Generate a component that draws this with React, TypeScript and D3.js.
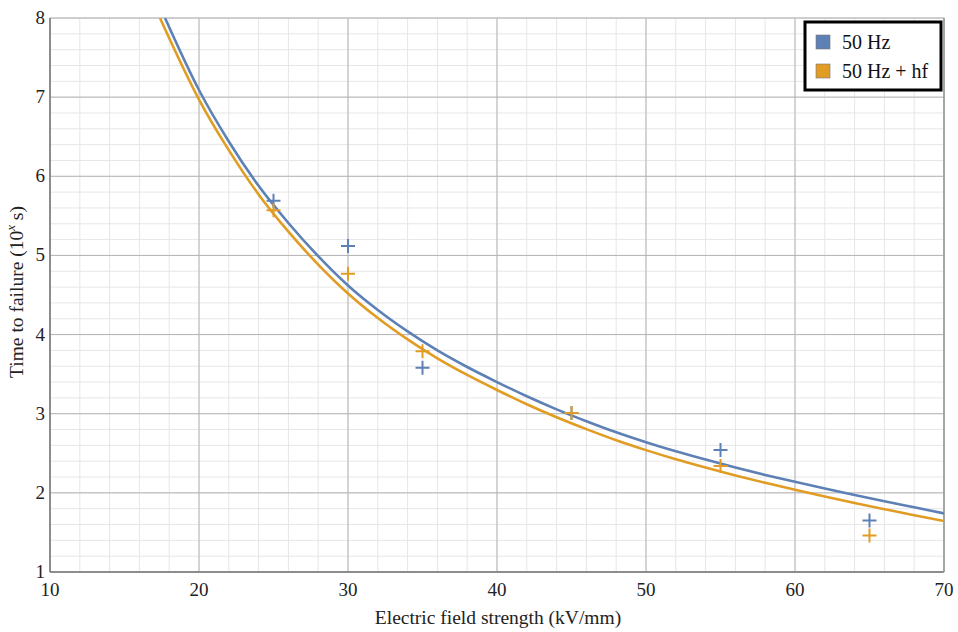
import React, { useRef, useEffect } from 'react';
import * as d3 from 'd3';

// fitted curves
const fieldBlue = [17.72, 20, 22, 24, 26, 28, 30, 32, 34, 36, 38, 40, 42, 44, 46, 48, 50, 52, 54, 56, 58, 60, 62, 64, 66, 68, 70];
const curveBlue = [8.0, 7.09, 6.44, 5.88, 5.41, 4.99, 4.62, 4.31, 4.04, 3.80, 3.59, 3.40, 3.22, 3.055, 2.905, 2.765, 2.64, 2.525, 2.42, 2.32, 2.227, 2.14, 2.055, 1.973, 1.894, 1.817, 1.74];
const fieldOrange = [17.38, 20, 22, 24, 26, 28, 30, 32, 34, 36, 38, 40, 42, 44, 46, 48, 50, 52, 54, 56, 58, 60, 62, 64, 66, 68, 70];
const curveOrange = [8.0, 6.97, 6.33, 5.77, 5.30, 4.885, 4.52, 4.21, 3.94, 3.70, 3.49, 3.30, 3.12, 2.955, 2.805, 2.665, 2.54, 2.425, 2.32, 2.22, 2.127, 2.04, 1.955, 1.873, 1.794, 1.717, 1.645];

// measured points
const fieldPts = [25, 30, 35, 45, 55, 65];
const ptsBlue = [5.69, 5.12, 3.58, 3.01, 2.54, 1.65];
const ptsOrange = [5.57, 4.77, 3.79, 3.01, 2.34, 1.46];

const xTicks = [10, 20, 30, 40, 50, 60, 70];
const yTicks = [1, 2, 3, 4, 5, 6, 7, 8];
const legendLabels = ['50 Hz', '50 Hz + hf'];
const colors = ['#5E81B5', '#E19C24'];

function drawChart(node: SVGSVGElement) {
  const width = 958, height = 632;
  const margin = { top: 18, right: 14, bottom: 60, left: 50 };
  const w = width - margin.left - margin.right;
  const h = height - margin.top - margin.bottom;

  const svg = d3.select(node);
  svg.selectAll('*').remove();
  const g = svg.append('g').attr('transform', `translate(${margin.left},${margin.top})`);

  const x = d3.scaleLinear().domain([10, 70]).range([0, w]);
  const y = d3.scaleLinear().domain([1, 8]).range([h, 0]);

  // minor grid
  const minorX = d3.range(10, 70.01, 2);
  const minorY = d3.range(1, 8.01, 0.2);
  g.append('g').selectAll('line').data(minorX).join('line')
    .attr('x1', d => x(d)).attr('x2', d => x(d)).attr('y1', 0).attr('y2', h)
    .attr('stroke', '#e6e6e6').attr('stroke-width', 1);
  g.append('g').selectAll('line').data(minorY).join('line')
    .attr('x1', 0).attr('x2', w).attr('y1', d => y(d)).attr('y2', d => y(d))
    .attr('stroke', '#e6e6e6').attr('stroke-width', 1);
  // major grid
  g.append('g').selectAll('line').data(xTicks).join('line')
    .attr('x1', d => x(d)).attr('x2', d => x(d)).attr('y1', 0).attr('y2', h)
    .attr('stroke', '#b4b4b4').attr('stroke-width', 1);
  g.append('g').selectAll('line').data(yTicks).join('line')
    .attr('x1', 0).attr('x2', w).attr('y1', d => y(d)).attr('y2', d => y(d))
    .attr('stroke', '#b4b4b4').attr('stroke-width', 1);

  // frame
  g.append('rect').attr('x', 0).attr('y', 0).attr('width', w).attr('height', h)
    .attr('fill', 'none').attr('stroke', '#c8c8c8');
  g.append('line').attr('x1', 0).attr('x2', 0).attr('y1', 0).attr('y2', h)
    .attr('stroke', '#777').attr('stroke-width', 1.5);
  g.append('line').attr('x1', 0).attr('x2', w).attr('y1', h).attr('y2', h)
    .attr('stroke', '#777').attr('stroke-width', 1.5);
  g.append('line').attr('x1', w).attr('x2', w).attr('y1', 0).attr('y2', h)
    .attr('stroke', '#999').attr('stroke-width', 1.5);

  // tick labels
  const font = '"Liberation Serif", "Times New Roman", serif';
  g.append('g').selectAll('text').data(xTicks).join('text')
    .attr('x', d => x(d)).attr('y', h + 24)
    .attr('text-anchor', 'middle').attr('font-family', font).attr('font-size', 19)
    .attr('fill', '#222').text(d => d);
  g.append('g').selectAll('text').data(yTicks).join('text')
    .attr('x', -5).attr('y', d => y(d) + 6)
    .attr('text-anchor', 'end').attr('font-family', font).attr('font-size', 19)
    .attr('fill', '#222').text(d => d);

  // axis titles
  svg.append('text').attr('x', 498).attr('y', 624)
    .attr('text-anchor', 'middle').attr('font-family', font).attr('font-size', 19.5)
    .attr('fill', '#222').text('Electric field strength (kV/mm)');
  const yl = svg.append('text')
    .attr('transform', 'translate(23, 292) rotate(-90)')
    .attr('text-anchor', 'middle').attr('font-family', font).attr('font-size', 19.5)
    .attr('fill', '#222');
  yl.append('tspan').text('Time to failure (10');
  yl.append('tspan').attr('font-size', 13).attr('font-style', 'italic').attr('dy', -8).text('x');
  yl.append('tspan').attr('dy', 8).text(' s)');

  // curves
  const clip = svg.append('defs').append('clipPath').attr('id', 'plotclip');
  clip.append('rect').attr('width', w).attr('height', h);
  const line = d3.line<[number, number]>()
    .x(d => x(d[0])).y(d => y(d[1])).curve(d3.curveMonotoneX);
  const curves: [number, number][][] = [
    fieldBlue.map((f, i) => [f, curveBlue[i]]),
    fieldOrange.map((f, i) => [f, curveOrange[i]]),
  ];
  curves.forEach((c, i) => {
    g.append('path').datum(c).attr('d', line)
      .attr('clip-path', 'url(#plotclip)')
      .attr('fill', 'none').attr('stroke', colors[i]).attr('stroke-width', 2.6);
  });

  // crosses
  [ptsBlue, ptsOrange].forEach((pts, i) => {
    g.append('g').selectAll('path').data(fieldPts).join('path')
      .attr('transform', (d, j) => `translate(${x(d)},${y(pts[j])})`)
      .attr('d', 'M-7,0H7M0,-7V7')
      .attr('stroke', colors[i]).attr('stroke-width', 2).attr('fill', 'none');
  });

  // legend
  const lg = svg.append('g').attr('transform', 'translate(805,22)');
  lg.append('rect').attr('width', 136).attr('height', 68)
    .attr('fill', 'white').attr('stroke', 'black').attr('stroke-width', 3);
  legendLabels.forEach((lab, i) => {
    lg.append('rect').attr('x', 11).attr('y', 13 + i * 29).attr('width', 14).attr('height', 14)
      .attr('fill', colors[i]).attr('stroke', '#777').attr('stroke-width', 0.6);
    lg.append('text').attr('x', 37).attr('y', 27 + i * 29)
      .attr('font-family', font).attr('font-size', 20).attr('fill', '#111').text(lab);
  });
}

export default function App() {
  const ref = useRef<SVGSVGElement>(null);
  useEffect(() => {
    if (ref.current) drawChart(ref.current);
  }, []);
  return (
    <svg ref={ref} width={958} height={632}
      style={{ position: 'absolute', left: 0, top: 0, background: 'white' }} />
  );
}
